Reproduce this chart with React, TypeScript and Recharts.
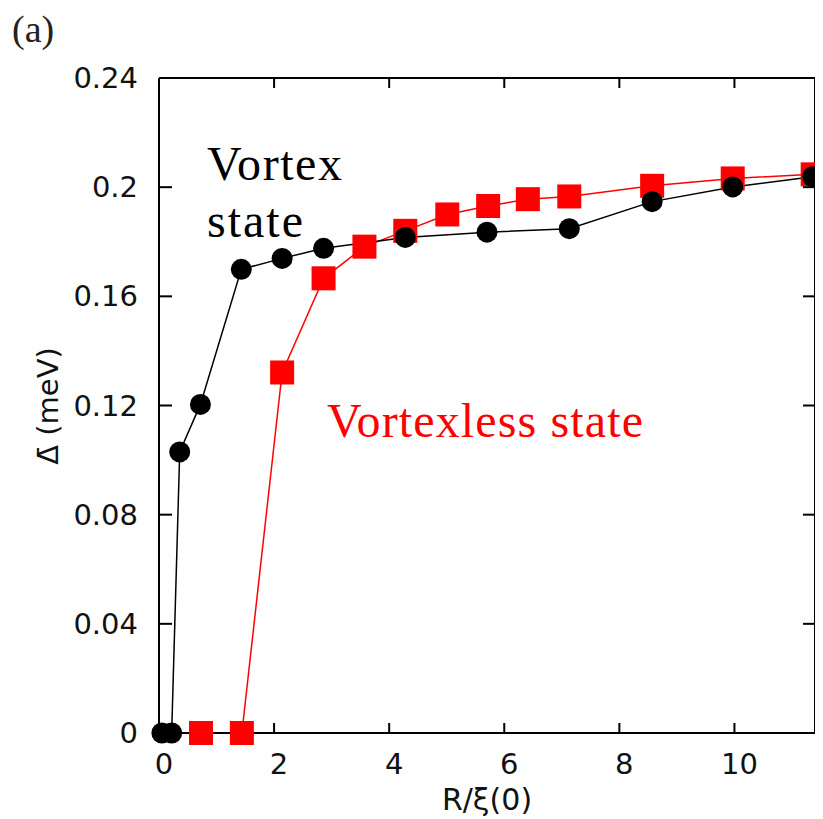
import { LineChart, Line, XAxis, YAxis, ReferenceLine } from 'recharts';

// R / xi(0) and gap values
const vortexR = [0.05, 0.22, 0.36, 0.72, 1.43, 2.14, 2.86, 4.28, 5.7, 7.13, 8.57, 9.97, 11.36];
const vortexGap = [0, 0, 0.103, 0.1204, 0.1699, 0.1739, 0.1776, 0.1816, 0.1835, 0.1848, 0.1947, 0.2001, 0.2038];

const vortexlessR = [0.73, 1.44, 2.14, 2.86, 3.57, 4.28, 5.01, 5.72, 6.41, 7.13, 8.57, 9.97, 11.36];
const vortexlessGap = [0, 0, 0.1321, 0.1666, 0.1782, 0.184, 0.19, 0.1931, 0.1956, 0.1966, 0.2005, 0.2032, 0.2047];

const xTicks = [0, 2, 4, 6, 8, 10];
const xTickLabels = ['0', '2', '4', '6', '8', '10'];
const yTicks = [0, 0.04, 0.08, 0.12, 0.16, 0.2, 0.24];
const yTickLabels = ['0', '0.04', '0.08', '0.12', '0.16', '0.2', '0.24'];
const xMax = 11.4;
const yMax = 0.24;

const vortexData = vortexR.map((r, i) => ({ r, d: vortexGap[i] }));
const vortexlessData = vortexlessR.map((r, i) => ({ r, d: vortexlessGap[i] }));

const W = 815;
const H = 811;
const MARGIN = { top: 70, right: 8, bottom: 0, left: 0 };
const plotTop = MARGIN.top;
const plotRight = W - MARGIN.right;
const tickFont = '"DejaVu Sans", sans-serif';

// gnuplot style: ticks point inward and are mirrored on top / right
const BottomTick = (props: any) => {
  const { x, y, index } = props;
  return (
    <g>
      <line x1={x} y1={y} x2={x} y2={y - 10} stroke="#000" strokeWidth={2} />
      {index > 0 && <line x1={x} y1={plotTop} x2={x} y2={plotTop + 10} stroke="#000" strokeWidth={2} />}
      <text x={x + 5} y={y + 41} textAnchor="middle" fontSize={29} fontFamily={tickFont} fill="#111">
        {xTickLabels[index]}
      </text>
    </g>
  );
};

const LeftTick = (props: any) => {
  const { x, y, index } = props;
  return (
    <g>
      <line x1={x} y1={y} x2={x + 13} y2={y} stroke="#000" strokeWidth={2} />
      <line x1={plotRight} y1={y} x2={plotRight - 12} y2={y} stroke="#000" strokeWidth={2} />
      <text x={x - 21} y={y + 10} textAnchor="end" fontSize={29} fontFamily={tickFont} fill="#111">
        {yTickLabels[index]}
      </text>
    </g>
  );
};

const CircleDot = (props: any) => {
  const { cx, cy, index } = props;
  return <circle key={`c${index}`} cx={cx} cy={cy} r={10.5} fill="#000" />;
};

const SquareDot = (props: any) => {
  const { cx, cy, index } = props;
  return <rect key={`s${index}`} x={cx - 12} y={cy - 12} width={24} height={24} fill="#ff0000" />;
};

const axisLine = { stroke: '#000', strokeWidth: 2 };

export default function App() {
  return (
    <div style={{ position: 'relative', width: W, height: H, background: '#fff' }}>
      <LineChart width={W} height={H} margin={MARGIN}>
        <XAxis
          dataKey="r"
          type="number"
          domain={[0, xMax]}
          ticks={xTicks}
          interval={0}
          height={86}
          tickSize={0}
          tickMargin={0}
          tickLine={false}
          axisLine={axisLine}
          tick={<BottomTick />}
        />
        <YAxis
          type="number"
          domain={[0, yMax]}
          ticks={yTicks}
          interval={0}
          width={151}
          tickSize={0}
          tickMargin={0}
          tickLine={false}
          axisLine={axisLine}
          tick={<LeftTick />}
        />
        <ReferenceLine y={yMax} stroke="#000" strokeWidth={2} />
        <ReferenceLine x={xMax} stroke="#000" strokeWidth={2} />
        <Line
          data={vortexlessData}
          dataKey="d"
          stroke="#ff0000"
          strokeWidth={1.5}
          dot={SquareDot}
          isAnimationActive={false}
        />
        <Line
          data={vortexData}
          dataKey="d"
          stroke="#000"
          strokeWidth={1.5}
          dot={CircleDot}
          isAnimationActive={false}
        />
      </LineChart>
      <svg
        width={W}
        height={H}
        style={{ position: 'absolute', left: 0, top: 0, pointerEvents: 'none' }}
      >
        <text x={4} y={34} fontSize={38} fontFamily='"Liberation Serif", serif' fill="#222">
          (a)
        </text>
        <text x={199} y={172} fontSize={48} fontFamily='"Liberation Serif", serif' fill="#000" textLength={135}>
          Vortex
        </text>
        <text x={199} y={229} fontSize={48} fontFamily='"Liberation Serif", serif' fill="#000" textLength={96}>
          state
        </text>
        <text x={319} y={429} fontSize={48} fontFamily='"Liberation Serif", serif' fill="#ff0000" textLength={316}>
          Vortexless state
        </text>
        <text x={479} y={802} textAnchor="middle" fontSize={30} fontFamily={tickFont} fill="#111">
          R/ξ(0)
        </text>
        <text
          x={40}
          y={398}
          transform="rotate(-90 40 398)"
          textAnchor="middle"
          dominantBaseline="central"
          fontSize={29}
          fontFamily={tickFont}
          fill="#111"
        >
          Δ̄ (meV)
        </text>
      </svg>
    </div>
  );
}
